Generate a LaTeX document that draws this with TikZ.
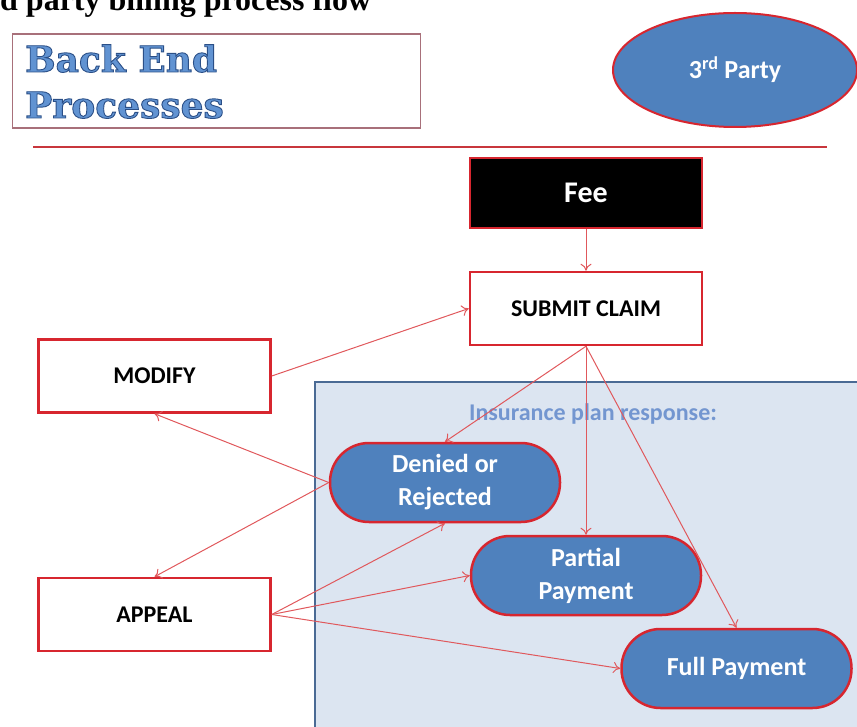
\documentclass[tikz,border=0pt]{standalone}
\usepackage{fontspec}
\usetikzlibrary{arrows.meta,shapes.geometric}
\newfontfamily\bodyfont{Carlito}
\newfontfamily\headfont{Liberation Serif}
\newfontfamily\slabfont{DejaVu Serif}
\definecolor{boxred}{HTML}{D7262F}
\definecolor{linkred}{HTML}{E0585C}
\definecolor{officeblue}{HTML}{4F81BD}
\definecolor{panelfill}{HTML}{DCE5F1}
\definecolor{paneledge}{HTML}{4A6A94}
\definecolor{paneltext}{HTML}{7396D0}
\definecolor{slabblue}{HTML}{6193D2}
\definecolor{frameedge}{HTML}{A8707A}
\definecolor{rulered}{HTML}{C8363C}
% outlined lettering: fill and stroke the glyphs
\newcommand{\outlined}[1]{\special{pdf:literal direct 2 Tr 0.9 w 0.17 0.31 0.53 RG}#1\special{pdf:literal direct 0 Tr}}

\begin{document}
\begin{tikzpicture}[x=1pt,y=-1pt,
  stepbox/.style={draw=boxred, line width=2.5pt, fill=white, minimum width=232pt,
    minimum height=73pt, inner sep=0pt, font=\bodyfont\bfseries\fontsize{24}{28}\selectfont},
  outcome/.style={draw=boxred, line width=2.5pt, fill=officeblue, rounded corners=39pt,
    minimum width=230pt, minimum height=79pt, inner sep=0pt, text=white, align=center,
    font=\bodyfont\bfseries\fontsize{26}{33}\selectfont},
  link/.style={draw=linkred, line width=1pt, -{To[length=7pt,width=11pt]}},
  slab/.style={anchor=base west, inner sep=0pt, text=slabblue,
    font=\slabfont\bfseries\fontsize{36}{46}\selectfont}
]
\useasboundingbox (0,0) rectangle (857,727);
\clip (0,0) rectangle (857,727);

% heading, partly above the page edge
\node[anchor=base west, inner sep=0pt, font=\headfont\bfseries\fontsize{32}{36}\selectfont]
  (heading) at (0,11) {d party billing process flow};

% "Back End Processes" frame
\node[draw=frameedge, line width=1.2pt, minimum width=408pt, minimum height=94pt,
  anchor=north west, inner sep=0pt] (frame) at (11.5,33.5) {};
\node[slab] (backend) at (25,72) {\outlined{Back End}};
\node[slab] (processes) at (25,118) {\outlined{Processes}};

% payer ellipse
\node[ellipse, draw=boxred, line width=2pt, fill=officeblue, minimum width=244pt,
  minimum height=114pt, inner sep=0pt, text=white,
  font=\bodyfont\bfseries\fontsize{26}{30}\selectfont] (party) at (735,70)
  {3\textsuperscript{rd} Party};

% separator rule
\draw[rulered, line width=2pt] (33,147) -- (827,147);

% response panel
\draw[draw=paneledge, fill=panelfill, line width=2.5pt] (315,382) rectangle (880,760);
\node[text=paneltext, inner sep=0pt, font=\bodyfont\bfseries\fontsize{24}{28}\selectfont]
  (caption) at (593,414) {Insurance plan response:};

% process steps
\node[stepbox, fill=black, text=white, minimum height=70pt,
  font=\bodyfont\bfseries\fontsize{30}{34}\selectfont] (fee) at (586,193) {Fee};
\node[stepbox] (submit) at (586,308.5) {SUBMIT CLAIM};
\node[stepbox] (modify) at (154.5,376) {MODIFY};
\node[stepbox] (appeal) at (154.5,614.5) {APPEAL};

% outcomes
\node[outcome] (denied) at (445,482.5) {Denied or\\Rejected};
\node[outcome] (partial) at (586,575.5) {Partial\\Payment};
\node[outcome] (full) at (736.5,668.5) {Full Payment};

% connectors
\draw[link] (fee) -- (submit);
\draw[link] (modify.east) -- (submit.west);
\draw[link] (submit.south) -- (denied.north);
\draw[link] (submit.south) -- (partial.north);
\draw[link] (submit.south) -- (full.north);
\draw[link] (denied.west) -- (modify.south);
\draw[link] (denied.west) -- (appeal.north);
\draw[link] (appeal.east) -- (denied.south);
\draw[link] (appeal.east) -- (partial.west);
\draw[link] (appeal.east) -- (full.west);
\end{tikzpicture}
\end{document}
